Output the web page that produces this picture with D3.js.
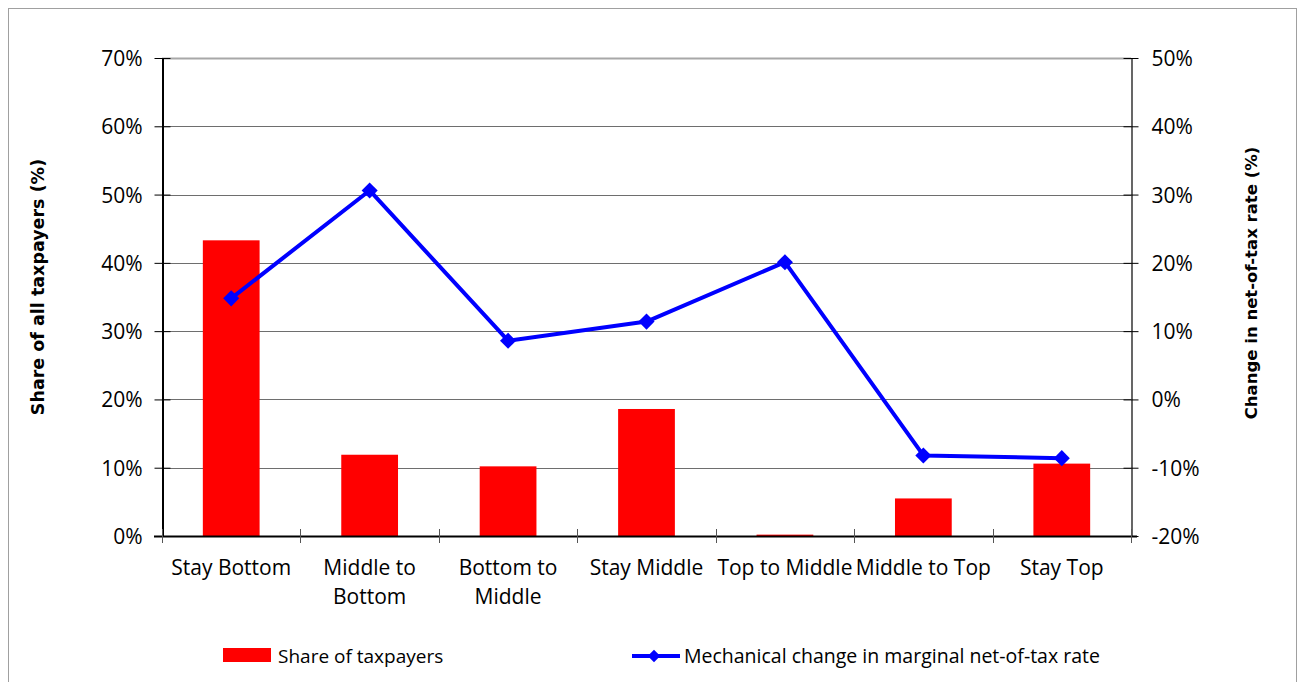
<!DOCTYPE html>
<html>
<head>
<meta charset="utf-8">
<script src="https://cdn.jsdelivr.net/npm/d3@7"></script>
<style>
  body { margin: 0; background: #fff; }
  svg { display: block; }
</style>
</head>
<body>
<div id="chart"></div>
<script>
// data
var categories = ["Stay Bottom", "Middle to\nBottom", "Bottom to\nMiddle", "Stay Middle", "Top to Middle", "Middle to Top", "Stay Top"];
var share_values = [43.3, 11.9, 10.2, 18.6, 0.2, 5.5, 10.6];
var change_values = [14.8, 30.6, 8.6, 11.4, 20.1, -8.2, -8.6];
var left_ticks = [0, 10, 20, 30, 40, 50, 60, 70];
var right_ticks = [-20, -10, 0, 10, 20, 30, 40, 50];

var W = 1303, H = 682;
var mLeft = 162, mRight = 1131, mTop = 58, mBottom = 536;
var font = "'Open Sans', 'Noto Sans', sans-serif";

var svg = d3.select("#chart").append("svg")
  .attr("width", W).attr("height", H);

// outer frame
svg.append("rect")
  .attr("x", 8.5).attr("y", 8.5).attr("width", 1288).attr("height", 680)
  .attr("fill", "none").attr("stroke", "#a0a0a0").attr("stroke-width", 1);

var x = d3.scaleBand().domain(d3.range(categories.length)).range([mLeft, mRight]).paddingInner(0.59).paddingOuter(0.295);
var xb = d3.scaleBand().domain(d3.range(categories.length)).range([mLeft, mRight]);
var yL = d3.scaleLinear().domain([0, 70]).range([mBottom, mTop]);
var yR = d3.scaleLinear().domain([-20, 50]).range([mBottom, mTop]);

// gridlines
svg.append("g").selectAll("line.grid")
  .data(left_ticks.filter(function(d) { return d > 0; }))
  .enter().append("line")
  .attr("x1", mLeft).attr("x2", mRight)
  .attr("y1", function(d) { return Math.round(yL(d)) + 0.5; })
  .attr("y2", function(d) { return Math.round(yL(d)) + 0.5; })
  .attr("stroke", function(d) { return d === 70 ? "#a8a8a8" : "#6e6e6e"; })
  .attr("stroke-width", function(d) { return d === 70 ? 2 : 1; });

// bars
svg.append("g").selectAll("rect.bar")
  .data(share_values)
  .enter().append("rect")
  .attr("x", function(d, i) { return x(i); })
  .attr("width", x.bandwidth())
  .attr("y", function(d) { return yL(d); })
  .attr("height", function(d) { return mBottom - yL(d); })
  .attr("fill", "#ff0000");

// left axis
var axL = d3.axisLeft(yL).tickValues(left_ticks).tickSizeInner(8).tickSizeOuter(0)
  .tickFormat(function(d) { return d + "%"; });
var gL = svg.append("g").attr("transform", "translate(" + (mLeft + 0.5) + ",0)").call(axL);
gL.select(".domain").attr("stroke", "#000").attr("stroke-width", 2);
gL.selectAll(".tick line").attr("x2", -8).attr("x1", 8).attr("stroke", "#000");
gL.selectAll(".tick text").attr("x", -20).attr("dy", "0.36em")
  .style("font-family", font).style("font-size", "21px").attr("fill", "#000");

// right axis
var axR = d3.axisRight(yR).tickValues(right_ticks).tickSizeInner(8).tickSizeOuter(0)
  .tickFormat(function(d) { return d + "%"; });
var gR = svg.append("g").attr("transform", "translate(" + (mRight + 0.5) + ",0)").call(axR);
gR.select(".domain").attr("stroke", "#000").attr("stroke-width", 1.2);
gR.selectAll(".tick line").attr("x1", -8).attr("x2", 7).attr("stroke", "#000");
gR.selectAll(".tick text").attr("x", 20).attr("dy", "0.36em")
  .style("font-family", font).style("font-size", "21px").attr("fill", "#000");

// x axis
svg.append("line")
  .attr("x1", mLeft - 8).attr("x2", mRight + 6)
  .attr("y1", mBottom + 0.5).attr("y2", mBottom + 0.5)
  .attr("stroke", "#000").attr("stroke-width", 2);
svg.append("g").selectAll("line.xtick")
  .data(d3.range(categories.length + 1))
  .enter().append("line")
  .attr("x1", function(i) { return Math.round(mLeft + i * xb.bandwidth()) + 0.5; })
  .attr("x2", function(i) { return Math.round(mLeft + i * xb.bandwidth()) + 0.5; })
  .attr("y1", mBottom - 7).attr("y2", mBottom + 7)
  .attr("stroke", "#555");

var xl = svg.append("g").selectAll("text.xlab")
  .data(categories)
  .enter().append("text")
  .attr("x", function(d, i) { return xb(i) + xb.bandwidth() / 2; })
  .attr("y", 575)
  .attr("text-anchor", "middle")
  .style("font-family", font).style("font-size", "21px");
xl.each(function(d) {
  var t = d3.select(this);
  d.split("\n").forEach(function(s, k) {
    t.append("tspan").attr("x", t.attr("x")).attr("dy", k === 0 ? 0 : 29).text(s);
  });
});

// line series
var line = d3.line()
  .x(function(d, i) { return xb(i) + xb.bandwidth() / 2; })
  .y(function(d) { return yR(d); });
svg.append("path").datum(change_values)
  .attr("d", line)
  .attr("fill", "none").attr("stroke", "#0000ff").attr("stroke-width", 4)
  .attr("stroke-linejoin", "round");
svg.append("g").selectAll("path.marker")
  .data(change_values)
  .enter().append("path")
  .attr("d", d3.symbol().type(d3.symbolDiamond2).size(165))
  .attr("transform", function(d, i) { return "translate(" + (xb(i) + xb.bandwidth() / 2) + "," + yR(d) + ")"; })
  .attr("fill", "#0000ff");

// axis titles
svg.append("text")
  .attr("transform", "translate(44,287) rotate(-90)")
  .attr("text-anchor", "middle")
  .style("font-family", "'DejaVu Sans', sans-serif").style("font-weight", "bold").style("font-size", "17.5px")
  .text("Share of all taxpayers (%)");
svg.append("text")
  .attr("transform", "translate(1257,283) rotate(-90)")
  .attr("text-anchor", "middle")
  .style("font-family", "'DejaVu Sans', sans-serif").style("font-weight", "bold").style("font-size", "16.5px")
  .text("Change in net-of-tax rate (%)");

// legend
svg.append("rect").attr("x", 223).attr("y", 648).attr("width", 48).attr("height", 14).attr("fill", "#ff0000");
svg.append("text").attr("x", 278).attr("y", 663)
  .style("font-family", font).style("font-size", "19px").text("Share of taxpayers");
svg.append("line").attr("x1", 632).attr("x2", 680).attr("y1", 656).attr("y2", 656)
  .attr("stroke", "#0000ff").attr("stroke-width", 4);
svg.append("path").attr("d", d3.symbol().type(d3.symbolDiamond2).size(100))
  .attr("transform", "translate(654,656)").attr("fill", "#0000ff");
svg.append("text").attr("x", 684).attr("y", 663)
  .style("font-family", font).style("font-size", "19.5px").text("Mechanical change in marginal net-of-tax rate");
</script>
</body>
</html>
